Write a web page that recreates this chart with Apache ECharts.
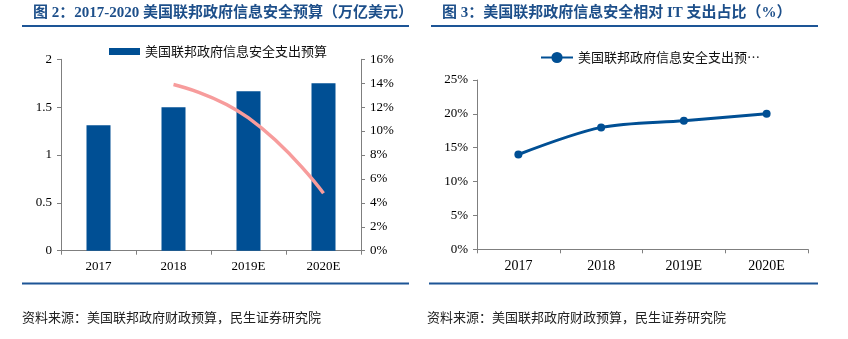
<!DOCTYPE html>
<html>
<head>
<meta charset="utf-8">
<script src="https://cdn.jsdelivr.net/npm/echarts@6/dist/echarts.min.js"></script>
<style>
  html, body { margin: 0; padding: 0; background: #fff; }
  #chart { width: 848px; height: 339px; }
</style>
</head>
<body>
<div id="chart"></div>
<script>
// Categories shared by both panels
const years = ['2017', '2018', '2019E', '2020E'];

// Left panel: budget (trillion USD) and its year-on-year growth (%)
const budget = [1.31, 1.50, 1.666, 1.75];
const budgetGrowth = [null, 13.9, 11.1, 4.8];

// Right panel: share of information security in IT spending (%)
const itShare = [14, 18, 19, 20];

const budgetName = '美国联邦政府信息安全支出预算';
const shareName = '美国联邦政府信息安全支出预算相对IT支出占比';

const blue = '#004f94';
const pink = '#f79c9c';
const axisGray = '#7f7f7f';
const serif = '"Liberation Serif", "Noto Sans CJK SC", serif';
const cjk = '"Noto Sans CJK SC", "Liberation Serif", sans-serif';

const tickLabel = { fontFamily: serif, fontSize: 13, color: '#000' };

const chart = echarts.init(document.getElementById('chart'), null, { renderer: 'canvas' });

chart.setOption({
  animation: false,
  backgroundColor: '#fff',
  graphic: [
    { type: 'text', left: 33, top: 6, style: { text: '图 2：2017-2020 美国联邦政府信息安全预算（万亿美元）', font: 'bold 15px ' + serif, fill: '#1d4f8a' } },
    { type: 'text', left: 442, top: 6, style: { text: '图 3：美国联邦政府信息安全相对 IT 支出占比（%）', font: 'bold 15px ' + serif, fill: '#1d4f8a' } },
    { type: 'rect', shape: { x: 22, y: 25, width: 387, height: 2 }, style: { fill: '#1d5596' } },
    { type: 'rect', shape: { x: 431, y: 25, width: 387, height: 2 }, style: { fill: '#1d5596' } },
    { type: 'rect', shape: { x: 22, y: 282.5, width: 387, height: 2 }, style: { fill: '#1d5596' } },
    { type: 'rect', shape: { x: 429, y: 282.5, width: 389, height: 2 }, style: { fill: '#1d5596' } },
    { type: 'text', left: 22, top: 311, style: { text: '资料来源：美国联邦政府财政预算，民生证券研究院', font: '13px ' + cjk, fill: '#222' } },
    { type: 'text', left: 427, top: 311, style: { text: '资料来源：美国联邦政府财政预算，民生证券研究院', font: '13px ' + cjk, fill: '#222' } }
  ],
  legend: [
    {
      data: [budgetName],
      left: 104, top: 40,
      itemWidth: 31, itemHeight: 7, itemGap: 6,
      icon: 'rect',
      textStyle: { fontFamily: cjk, fontSize: 13, color: '#111' }
    },
    {
      data: [shareName],
      left: 535, top: 46,
      itemWidth: 32, itemHeight: 14,
      textStyle: { fontFamily: cjk, fontSize: 13, color: '#111', width: 186, overflow: 'truncate', ellipsis: '…' }
    }
  ],
  grid: [
    { left: 61, right: 487, top: 59.3, bottom: 88.3, containLabel: false },
    { left: 477, right: 40, top: 80, bottom: 89.7, containLabel: false }
  ],
  xAxis: [
    {
      type: 'category', gridIndex: 0, data: years,
      axisLine: { lineStyle: { color: axisGray, width: 1 } },
      axisTick: { show: true, length: 4, lineStyle: { color: axisGray } },
      axisLabel: Object.assign({ margin: 9 }, tickLabel)
    },
    {
      type: 'category', gridIndex: 1, data: years,
      axisLine: { lineStyle: { color: axisGray, width: 1 } },
      axisTick: { show: true, length: 4, lineStyle: { color: axisGray } },
      axisLabel: Object.assign({ margin: 10 }, tickLabel, { fontSize: 14 })
    }
  ],
  yAxis: [
    {
      type: 'value', gridIndex: 0, min: 0, max: 2, interval: 0.5,
      axisLine: { show: true, lineStyle: { color: axisGray } },
      axisTick: { show: true, length: 4, lineStyle: { color: axisGray } },
      splitLine: { show: false },
      axisLabel: Object.assign({ margin: 9 }, tickLabel)
    },
    {
      type: 'value', gridIndex: 0, position: 'right', min: 0, max: 16, interval: 2,
      axisLine: { show: true, lineStyle: { color: axisGray } },
      axisTick: { show: true, length: 4, lineStyle: { color: axisGray } },
      splitLine: { show: false },
      axisLabel: Object.assign({ margin: 9, formatter: '{value}%' }, tickLabel)
    },
    {
      type: 'value', gridIndex: 1, min: 0, max: 25, interval: 5,
      axisLine: { show: true, lineStyle: { color: axisGray } },
      axisTick: { show: true, length: 4, lineStyle: { color: axisGray } },
      splitLine: { show: false },
      axisLabel: Object.assign({ margin: 9, formatter: '{value}%' }, tickLabel)
    }
  ],
  series: [
    {
      name: budgetName, type: 'bar', xAxisIndex: 0, yAxisIndex: 0,
      data: budget, barWidth: 24,
      itemStyle: { color: blue }
    },
    {
      name: '增速', type: 'line', xAxisIndex: 0, yAxisIndex: 1,
      data: budgetGrowth, smooth: true, showSymbol: false,
      lineStyle: { color: pink, width: 3.5 }
    },
    {
      name: shareName, type: 'line', xAxisIndex: 1, yAxisIndex: 2,
      data: itShare, smooth: 0.3,
      symbol: 'circle', symbolSize: 8,
      itemStyle: { color: blue },
      lineStyle: { color: blue, width: 3 }
    }
  ]
});
</script>
</body>
</html>
